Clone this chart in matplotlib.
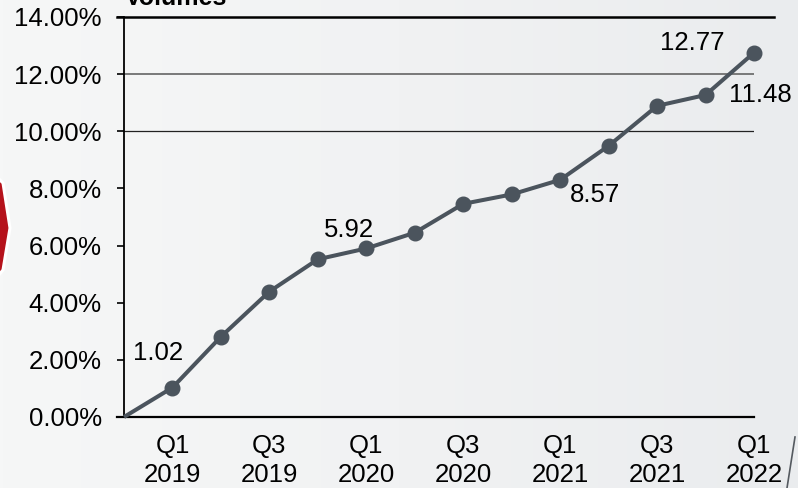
import matplotlib
matplotlib.use("Agg")
import matplotlib.pyplot as plt
import numpy as np
from matplotlib.colors import LinearSegmentedColormap
from matplotlib.lines import Line2D
from matplotlib.patches import Polygon

plt.rcParams['font.family'] = ['Liberation Sans', 'DejaVu Sans']

# ---- data ----
quarters = ["Start", "Q1 2019", "Q2 2019", "Q3 2019", "Q4 2019",
            "Q1 2020", "Q2 2020", "Q3 2020", "Q4 2020",
            "Q1 2021", "Q2 2021", "Q3 2021", "Q4 2021", "Q1 2022"]
values = [0.0, 1.03, 2.81, 4.39, 5.52, 5.90, 6.45, 7.46, 7.79,
          8.30, 9.49, 10.89, 11.27, 12.75]
tick_labels = ["Q1\n2019", "Q3\n2019", "Q1\n2020", "Q3\n2020",
               "Q1\n2021", "Q3\n2021", "Q1\n2022"]
tick_index = [1, 3, 5, 7, 9, 11, 13]
label_index = [1, 5, 9, 12, 13]
label_text = ["1.02", "5.92", "8.57", "11.48", "12.77"]
label_offset_px = [(-14, 35), (-17, 18), (35, -15), (55, 0), (-62, 10)]
y_ticks = [0, 2, 4, 6, 8, 10, 12, 14]

W, H = 798, 488
fig = plt.figure(figsize=(W / 100, H / 100), dpi=100)

# background gradient
bg = fig.add_axes([0, 0, 1, 1], zorder=-10)
cmap = LinearSegmentedColormap.from_list("bg", ["#f6f7f7", "#f1f2f3", "#eaecee"])
grad = np.linspace(0, 1, 256).reshape(1, -1)
bg.imshow(grad, aspect="auto", cmap=cmap, extent=[0, 1, 0, 1])
bg.set_xlim(0, 1); bg.set_ylim(0, 1)
bg.axis("off")

# decorative red chevron at left
pts = np.array([(-2, 178), (3, 183), (10, 228), (3, 270), (-2, 276)], dtype=float)
pts[:, 0] /= W
pts[:, 1] = 1 - pts[:, 1] / H
fig.patches.append(Polygon(pts, closed=True, transform=fig.transFigure,
                           facecolor="#b5121b", edgecolor="white", lw=2.2, zorder=-5))
# diagonal line at bottom right
fig.lines.append(Line2D([795 / W, 787 / W], [1 - 437 / H, 0], transform=fig.transFigure,
                        color="#555a60", lw=1.2))

ax = fig.add_axes([124 / W, 1 - 417 / H, (754 - 124) / W, (417 - 17) / H])
ax.set_facecolor("none")

x = np.arange(len(values))
ax.plot(x, values, color="#4b545d", lw=2.9, marker="o", markersize=10.5,
        markevery=list(range(1, len(values))),
        solid_capstyle="butt", zorder=5, clip_on=False)

ax.set_xlim(0, len(values) - 1)
ax.set_ylim(0, 14)

ax.set_yticks(y_ticks)
ax.set_yticklabels([f"{v:.2f}%" for v in y_ticks], fontsize=18.5)
ax.tick_params(axis="y", length=5, width=1.2, color="black", pad=11, direction="out")
ax.set_xticks(tick_index)
ax.set_xticklabels(tick_labels, fontsize=18.5, linespacing=1.27)
ax.tick_params(axis="x", length=0, pad=12.5)

for s in ["top", "right"]:
    ax.spines[s].set_visible(False)
ax.spines["left"].set_linewidth(1.3)
ax.spines["bottom"].set_linewidth(1.6)
ax.spines["bottom"].set_bounds(-0.14, len(values) - 1)

# grid lines
ax.axhline(12, color="#6f6f6f", lw=1.3, zorder=1)
ax.axhline(10, color="#222222", lw=0.9, zorder=1)
ax.plot([-0.14, 13.42], [14, 14], color="black", lw=1.8, clip_on=False, zorder=2)

for i, t, (dx, dy) in zip(label_index, label_text, label_offset_px):
    ax.annotate(t, (x[i], values[i]), xytext=(dx * 0.72, dy * 0.72),
                textcoords="offset points", ha="center", va="center",
                fontsize=18.5, color="black", zorder=6)

fig.text(125 / W, 1 - 5 / H, "Volumes", fontsize=18, fontweight="bold",
         ha="left", va="baseline")

fig.savefig("out.png", dpi=100)
